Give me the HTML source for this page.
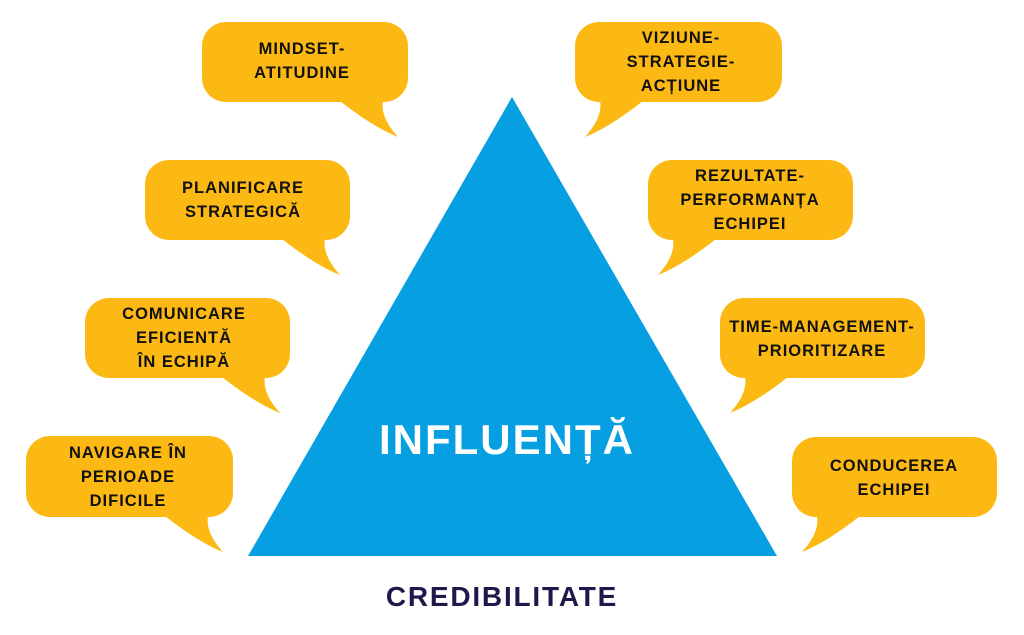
<!DOCTYPE html>
<html><head><meta charset="utf-8"><style>
html,body{margin:0;padding:0;background:#fff;width:1024px;height:635px;overflow:hidden}
text{font-family:"Liberation Sans","DejaVu Sans",sans-serif;font-weight:bold}
.b{fill:#fdb913}
.t{font-size:16.5px;fill:#111;text-anchor:middle;letter-spacing:1px}
</style></head><body>
<svg width="1024" height="635" viewBox="0 0 1024 635">
<polygon points="512,97 248,556 777,556" fill="#059fe2"/>
<text x="507" y="454" font-size="42" fill="#fff" text-anchor="middle" letter-spacing="2">INFLUENȚĂ</text>
<text x="502" y="606" font-size="28" fill="#1d1a4b" text-anchor="middle" letter-spacing="1.8">CREDIBILITATE</text>

<g class="b">
<rect x="202" y="22" width="206" height="80" rx="24"/><path d="M340,101 Q373,127 398,137 Q380,117 383,101Z"/>
<rect x="145" y="160" width="205" height="80" rx="24"/><path d="M282,239 Q315,265 340,275 Q322,255 325,239Z"/>
<rect x="85" y="298" width="205" height="80" rx="24"/><path d="M222,377 Q255,403 280,413 Q262,393 265,377Z"/>
<rect x="26" y="436" width="207" height="81" rx="24"/><path d="M165,516 Q198,542 223,552 Q205,532 208,516Z"/>
<rect x="575" y="22" width="207" height="80" rx="24"/><path d="M643,101 Q610,127 585,137 Q603,117 600,101Z"/>
<rect x="648" y="160" width="205" height="80" rx="24"/><path d="M716,239 Q683,265 658,275 Q676,255 673,239Z"/>
<rect x="720" y="298" width="205" height="80" rx="24"/><path d="M788,377 Q755,403 730,413 Q748,393 745,377Z"/>
<rect x="792" y="437" width="205" height="80" rx="24"/><path d="M860,516 Q827,542 802,552 Q820,532 817,516Z"/>
</g>

<text class="t" x="302" y="54">MINDSET-</text>
<text class="t" x="302" y="78">ATITUDINE</text>

<text class="t" x="243" y="193">PLANIFICARE</text>
<text class="t" x="243" y="217">STRATEGICĂ</text>

<text class="t" x="184" y="319">COMUNICARE</text>
<text class="t" x="184" y="343">EFICIENTĂ</text>
<text class="t" x="184" y="367">ÎN ECHIPĂ</text>

<text class="t" x="128" y="458">NAVIGARE ÎN</text>
<text class="t" x="128" y="482">PERIOADE</text>
<text class="t" x="128" y="506">DIFICILE</text>

<text class="t" x="681" y="43">VIZIUNE-</text>
<text class="t" x="681" y="67">STRATEGIE-</text>
<text class="t" x="681" y="91">ACȚIUNE</text>

<text class="t" x="750" y="181">REZULTATE-</text>
<text class="t" x="750" y="205">PERFORMANȚA</text>
<text class="t" x="750" y="229">ECHIPEI</text>

<text class="t" x="822" y="332">TIME-MANAGEMENT-</text>
<text class="t" x="822" y="356">PRIORITIZARE</text>

<text class="t" x="894" y="471">CONDUCEREA</text>
<text class="t" x="894" y="495">ECHIPEI</text>
</svg>
</body></html>
